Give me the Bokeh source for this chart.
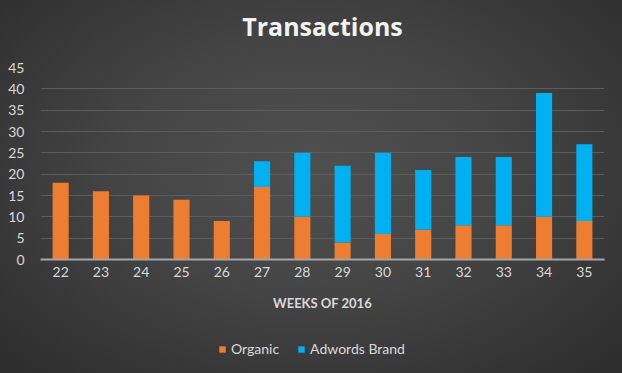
from bokeh.plotting import figure
from bokeh.layouts import column
from bokeh.models import (ColumnDataSource, FactorRange, Range1d, Legend, LegendItem,
                          FixedTicker)
from bokeh.embed import file_html
from bokeh.resources import INLINE

weeks = ["22", "23", "24", "25", "26", "27", "28", "29", "30", "31", "32", "33", "34", "35"]
organic = [18, 16, 15, 14, 9, 17, 10, 4, 6, 7, 8, 8, 10, 9]
adwords = [0, 0, 0, 0, 0, 6, 15, 18, 19, 14, 16, 16, 29, 18]
y_ticks = [0, 5, 10, 15, 20, 25, 30, 35, 40, 45]
series = ["organic", "adwords"]
series_labels = ["Organic", "Adwords Brand"]
colors = ["#ED7D31", "#00B0F0"]
title_text = "Transactions"

FONT = "Lato"
TXT = "#d9d9d9"

src = ColumnDataSource(dict(week=weeks, organic=organic, adwords=adwords))

# title strip (the strip's own title carries the chart title)
tf = figure(x_range=Range1d(0, 1), y_range=Range1d(0, 1),
            width=622, height=50, output_backend="svg", toolbar_location=None,
            x_axis_type=None, y_axis_type=None,
            min_border_left=0, min_border_right=0, min_border_top=0, min_border_bottom=0)
tf.border_fill_color = None
tf.background_fill_color = None
tf.outline_line_color = None
tf.grid.grid_line_color = None
tf.title.text = title_text
tf.title.align = "center"
tf.title.vertical_align = "bottom"
tf.title.text_font = "Open Sans"
tf.title.text_font_style = "bold"
tf.title.text_font_size = "25px"
tf.title.text_color = "#f2f2f2"
tf.title.standoff = 12

p = figure(x_range=FactorRange(*weeks), y_range=Range1d(0, 45),
           width=622, height=275, output_backend="svg", toolbar_location=None,
           min_border_left=40, min_border_right=18, min_border_top=17,
           min_border_bottom=66)
p.title.visible = False
p.border_fill_color = None
p.background_fill_color = None
p.outline_line_color = None

rs = p.vbar_stack(series, x="week", width=0.4, color=colors, source=src, line_width=0)

p.xgrid.grid_line_color = None
p.ygrid.grid_line_color = "#5c5c5c"
p.ygrid.grid_line_width = 1
p.yaxis.ticker = FixedTicker(ticks=y_ticks)

p.yaxis.axis_line_color = None
p.yaxis.major_tick_line_color = None
p.yaxis.minor_tick_line_color = None
p.yaxis.major_label_text_color = TXT
p.yaxis.major_label_text_font = FONT
p.yaxis.major_label_text_font_size = "14px"
p.yaxis.major_label_standoff = 10

p.xaxis.axis_line_color = "#a6a6a6"
p.xaxis.axis_line_width = 2
p.xaxis.major_tick_line_color = None
p.xaxis.minor_tick_line_color = None
p.xaxis.major_label_text_color = TXT
p.xaxis.major_label_text_font = FONT
p.xaxis.major_label_text_font_size = "14px"
p.xaxis.major_label_standoff = 1
p.xaxis.axis_label = "WEEKS OF 2016"
p.xaxis.axis_label_text_font = FONT
p.xaxis.axis_label_text_font_style = "bold"
p.xaxis.axis_label_text_font_size = "13px"
p.xaxis.axis_label_text_color = TXT
p.xaxis.axis_label_standoff = 15

# legend strip: same series, drawn off-view, only the legend shows
lf = figure(x_range=FactorRange(*weeks), y_range=Range1d(100, 101),
            width=622, height=48, output_backend="svg", toolbar_location=None,
            x_axis_type=None, y_axis_type=None,
            min_border_left=0, min_border_right=0, min_border_top=0, min_border_bottom=0)
lf.title.visible = False
lf.border_fill_color = None
lf.background_fill_color = None
lf.outline_line_color = None
lf.grid.grid_line_color = None
lrs = lf.vbar_stack(series, x="week", width=0.4, color=colors, source=src, line_width=0)

legend = Legend(items=[LegendItem(label=series_labels[i], renderers=[lrs[i]]) for i in range(2)],
                orientation="horizontal", location=(178, 16),
                background_fill_alpha=0, border_line_alpha=0,
                label_text_color=TXT, label_text_font=FONT, label_text_font_size="14px",
                glyph_width=8, glyph_height=8, spacing=18, label_standoff=5,
                margin=0, padding=0)
lf.add_layout(legend, "center")

layout = column(tf, p, lf, spacing=0)
layout.styles = {"background": "radial-gradient(ellipse at 50% 45%, #4f4f4f 0%, #464646 40%, #2c2c2c 100%)"}

open("out.html", "w").write(file_html(layout, INLINE))
